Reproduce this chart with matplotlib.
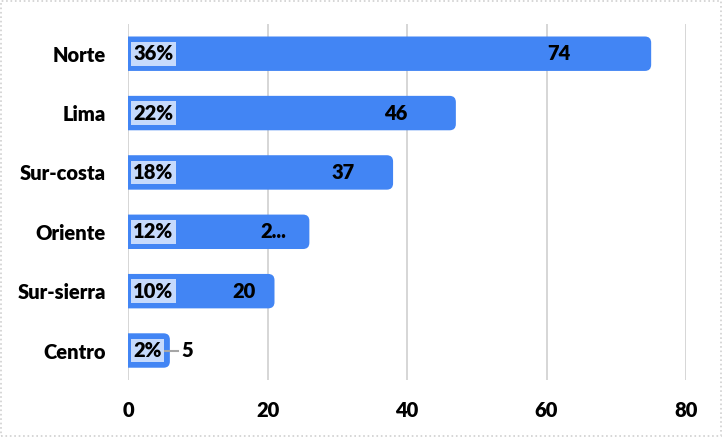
import matplotlib.pyplot as plt
from matplotlib.patches import FancyBboxPatch, Rectangle

regions = ['Norte', 'Lima', 'Sur-costa', 'Oriente', 'Sur-sierra', 'Centro']
values = [74, 46, 37, 25, 20, 5]
value_labels = ['74', '46', '37', '2...', '20', '5']
pct_labels = ['36%', '22%', '18%', '12%', '10%', '2%']

bar_color = '#4285f4'
pct_bg = '#c6dafc'
font = 'Lato'
fs = 14.5
weight = 'heavy'

fig = plt.figure(figsize=(7.22, 4.37), dpi=100)
ax = fig.add_axes([0.1773, 0.130, 0.7729, 0.815])

ax.set_xlim(0, 80)
ax.set_ylim(len(regions) - 0.5, -0.5)

# rounded bars (left corners pushed past the axis and clipped)
x_per_px = 80 / 558
y_per_px = 6 / 356
for i, v in enumerate(values):
    h = 0.58
    box = FancyBboxPatch((-2, i - h / 2), v + 3, h,
                         boxstyle='round,pad=0,rounding_size=0.9',
                         mutation_aspect=y_per_px / x_per_px,
                         facecolor=bar_color, edgecolor='none', zorder=2)
    ax.add_patch(box)
    ax.text(0.75, i, pct_labels[i], ha='left', va='center', fontsize=fs,
            fontweight=weight, family=font, zorder=4,
            bbox=dict(boxstyle='square,pad=0.12', facecolor=pct_bg, edgecolor='none'))
    if v >= 10:
        ax.text(v * 0.834, i, value_labels[i], ha='center', va='center',
                fontsize=fs, fontweight=weight, family=font, zorder=4)
    else:
        ax.plot([v, v + 2.2], [i, i], color='#a6a6a6', lw=1.5, zorder=3)
        ax.text(v + 2.6, i, value_labels[i], ha='left', va='center',
                fontsize=fs, fontweight=weight, family=font, zorder=4)

ax.set_yticks(range(len(regions)))
ax.set_yticklabels(regions)
ax.set_xticks([0, 20, 40, 60, 80])
for lab in ax.get_xticklabels() + ax.get_yticklabels():
    lab.set_fontweight(weight)
    lab.set_fontsize(fs)
    lab.set_family(font)
ax.tick_params(axis='y', length=0, pad=16)
ax.tick_params(axis='x', length=0, pad=15)

ax.grid(axis='x', color='#d0d0d0', lw=1.2, zorder=0)
ax.set_axisbelow(True)
for s in ax.spines.values():
    s.set_visible(False)

fig.patches.append(Rectangle((0.001, 0.002), 0.997, 0.995, transform=fig.transFigure,
                             fill=False, edgecolor='#d0d0d0', lw=1.2, linestyle=':'))

fig.savefig('out.png', dpi=100)
